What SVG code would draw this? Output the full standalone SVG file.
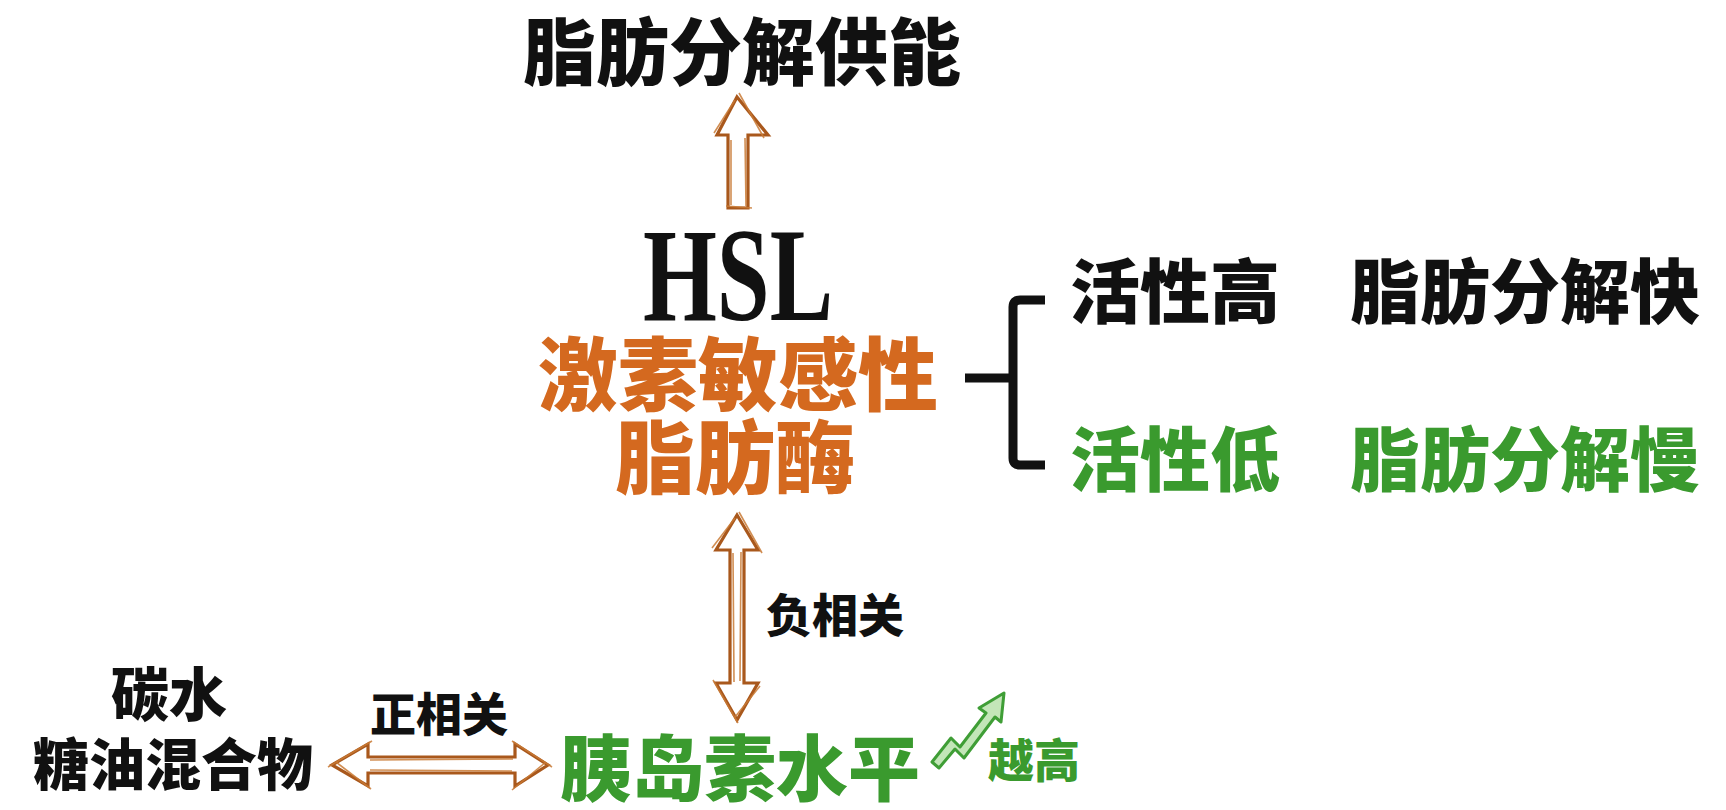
<svg xmlns="http://www.w3.org/2000/svg" width="1726" height="810" viewBox="0 0 1726 810">
<style>
.t{font-family:"Noto Sans CJK SC","Noto Sans CJK JP",sans-serif;font-weight:900;text-anchor:middle}
.k{fill:#111}
.o{fill:#D4691F}
.g{fill:#3A9A2E}
.sk{fill:none;stroke:#A9581C;stroke-width:3.2;stroke-linejoin:miter}
.sk2{fill:none;stroke:#C97A35;stroke-width:1.6;opacity:0.85}
</style>
<rect width="1726" height="810" fill="#fff"/>
<g id="top">
<text class="t k" x="742" y="79" font-size="73">脂肪分解供能</text>
</g>
<g id="hsl">
<text x="738" y="320" font-family="Liberation Serif,serif" font-weight="700" font-size="134" text-anchor="middle" textLength="190" lengthAdjust="spacingAndGlyphs" fill="#111">HSL</text>
<text class="t o" x="738" y="404" font-size="80">激素敏感性</text>
<text class="t o" x="735" y="487" font-size="80">脂肪酶</text>
</g>
<g id="high">
<text class="t k" x="1175" y="318" font-size="70">活性高</text>
<text class="t k" x="1525" y="318" font-size="70">脂肪分解快</text>
</g>
<g id="low">
<text class="t g" x="1175" y="486" font-size="70">活性低</text>
<text class="t g" x="1525" y="486" font-size="70">脂肪分解慢</text>
</g>
<g id="carb">
<text class="t k" x="169" y="716" font-size="58">碳水</text>
<text class="t k" x="173" y="785" font-size="56">糖油混合物</text>
</g>
<g id="insulin">
<text class="t g" x="740" y="795" font-size="72">胰岛素水平</text>
<text class="t g" x="1034" y="777" font-size="46">越高</text>
</g>
<g id="connectors">
<path d="M965 378 H1013 M1045 300 H1020 Q1013 300 1013 307 V458 Q1013 465 1020 465 H1045" fill="none" stroke="#111" stroke-width="9" stroke-linecap="butt"/>
<path class="sk" d="M737 97 L768 135 L748 135 L748 208 L728 208 L728 135 L717 135 Z"/>
<path class="sk2" d="M739 93 L764 138 M735 100 L714 133 M731 140 L731 205 M745 138 L746 206 M726 206 L752 208"/>
<path class="sk" d="M737 515 L758 550 L744 550 L744 683 L758 683 L737 720 L716 683 L730 683 L730 550 L716 550 Z"/>
<path class="sk2" d="M739 512 L762 553 M735 518 L712 548 M733 553 L734 682 M741 552 L740 681 M713 680 L738 723 M760 686 L735 717"/>
<text class="t k" x="835" y="632" font-size="46">负相关</text>
<path class="sk" d="M332 765 L368 744 L368 757 L515 757 L515 744 L548 765 L515 786 L515 773 L368 773 L368 786 Z"/>
<path class="sk2" d="M328 767 L372 741 M336 762 L371 789 M370 760 L513 759 M370 770 L512 771 M512 741 L552 767 M546 762 L512 790"/>
<text class="t k" x="439" y="731" font-size="46">正相关</text>
<path d="M932 762 L951 738 L960 747 L986 713 L979 708 L1004 693 L1001 722 L995 717 L964 758 L955 749 L939 768 Z" fill="#C3E6B8" stroke="#3F9E36" stroke-width="3" stroke-linejoin="round"/>
</g>
</svg>
